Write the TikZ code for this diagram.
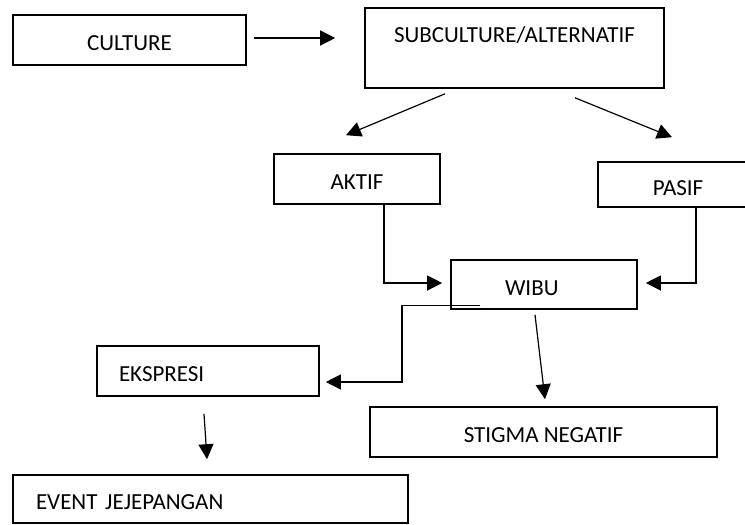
\documentclass[tikz,border=0pt]{standalone}
\usepackage{fontspec}
\setmainfont{Carlito}
\usetikzlibrary{arrows.meta}
\begin{document}
\begin{tikzpicture}[x=1pt,y=-1pt,
    box/.style={draw,line width=1.6pt,inner sep=0pt,text height=21pt,text depth=0pt,font=\fontsize{23}{28}\selectfont},
    arr/.style={line width=1.2pt,-{Triangle[length=15pt,width=15pt]}}]
  \fill[white] (0,0) rectangle (745,525);
  \useasboundingbox (0,0) rectangle (745,525);
  \clip (0,0) rectangle (745,525);
  \node[box,minimum width=233pt,minimum height=50pt] (culture) at (129.5,40) {CULTURE};
  \node[box,minimum width=299pt,minimum height=80pt,text depth=32pt] (subcult) at (514.5,48) {SUBCULTURE/ALTERNATIF};
  \node[box,minimum width=166pt,minimum height=50pt] (aktif) at (357,179) {AKTIF};
  \node[box,minimum width=160pt,minimum height=45pt] (pasif) at (678,184.5) {PASIF};
  \node[box,minimum width=186pt,minimum height=49pt,text width=78pt,inner xsep=54pt,align=left] (wibu) at (544,284.5) {WIBU};
  \node[box,minimum width=222pt,minimum height=50pt,text width=178pt,inner xsep=22pt,align=left] (ekspresi) at (208,371) {EKSPRESI};
  \node[box,minimum width=347pt,minimum height=50pt] (stigma) at (543.5,432) {STIGMA NEGATIF};
  \node[box,minimum width=395pt,minimum height=48pt,text width=349pt,inner xsep=23pt,align=left] (event) at (210.5,499) {EVENT JEJEPANGAN};
  \draw[arr] ([shift={(7,-2)}]culture.east) -- ([shift={(-29,-2)}]culture.east -| subcult.west);
  \draw[arr] ([shift={(-69.5,5)}]subcult.south) -- ([shift={(-11,-18)}]aktif.north);
  \draw[arr] ([shift={(60.5,9)}]subcult.south) -- ([shift={(-6,-24)}]pasif.north);
  \draw[arr] ([shift={(-32,-1.5)}]aktif.south) -- ([shift={(27,-1.5)}]aktif.south) |- ([shift={(-8,-1.5)}]wibu.west);
  \draw[arr] ([shift={(80,-1.5)}]pasif.south) -- ([shift={(18,-1.5)}]pasif.south) |- ([shift={(8,-1.5)}]wibu.east);
  \draw[arr] ([shift={(-64,-4.5)}]wibu.south) -- ([shift={(-142,-4.5)}]wibu.south) |- ([shift={(6,11)}]ekspresi.east);
  \draw[arr] ([shift={(-9,5)}]wibu.south) -- ([shift={(1.5,-7)}]stigma.north);
  \draw[arr] ([shift={(-4,17)}]ekspresi.south) -- ([shift={(-3.5,-15)}]event.north);
\end{tikzpicture}
\end{document}
